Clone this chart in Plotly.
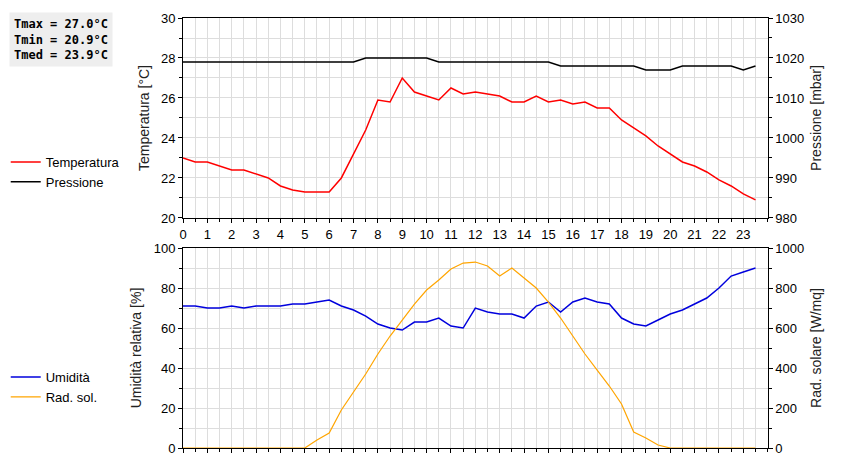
import plotly.graph_objects as go
from plotly.subplots import make_subplots

ore = [i * 0.5 for i in range(48)]

temperatura = [23.0, 22.8, 22.8, 22.6, 22.4, 22.4, 22.2, 22.0, 21.6, 21.4, 21.3, 21.3,
               21.3, 22.0, 23.2, 24.4, 25.9, 25.8, 27.0, 26.3, 26.1, 25.9, 26.5, 26.2,
               26.3, 26.2, 26.1, 25.8, 25.8, 26.1, 25.8, 25.9, 25.7, 25.8, 25.5, 25.5,
               24.9, 24.5, 24.1, 23.6, 23.2, 22.8, 22.6, 22.3, 21.9, 21.6, 21.2, 20.9]
pressione = [1019] * 15 + [1020] * 6 + [1019] * 10 + [1018] * 7 + [1017] * 3 + [1018] * 5 + [1017, 1018]
umidita = [71, 71, 70, 70, 71, 70, 71, 71, 71, 72, 72, 73, 74, 71, 69, 66, 62, 60, 59, 63,
           63, 65, 61, 60, 70, 68, 67, 67, 65, 71, 73, 68, 73, 75, 73, 72, 65, 62, 61, 64,
           67, 69, 72, 75, 80, 86, 88, 90]
radiazione = [0] * 11 + [40, 75, 190, 280, 370, 470, 560, 640, 720, 790, 840, 895, 925,
              930, 910, 860, 900, 850, 800, 730, 650, 560, 470, 390, 310, 220, 80, 50, 15] + [0] * 8

statistiche = ["Tmax = 27.0°C", "Tmin = 20.9°C", "Tmed = 23.9°C"]

fig = make_subplots(rows=2, cols=1, vertical_spacing=0.07,
                    specs=[[{"secondary_y": True}], [{"secondary_y": True}]])

fig.add_trace(go.Scatter(x=ore, y=temperatura, name="Temperatura", mode="lines",
                         line=dict(color="#ff0000", width=1.5), legend="legend"),
              row=1, col=1, secondary_y=False)
fig.add_trace(go.Scatter(x=ore, y=pressione, name="Pressione", mode="lines",
                         line=dict(color="#000000", width=1.5), legend="legend"),
              row=1, col=1, secondary_y=True)
fig.add_trace(go.Scatter(x=ore, y=umidita, name="Umidità", mode="lines",
                         line=dict(color="#0000dd", width=1.5), legend="legend2"),
              row=2, col=1, secondary_y=False)
fig.add_trace(go.Scatter(x=ore, y=radiazione, name="Rad. sol.", mode="lines",
                         line=dict(color="#ffa500", width=1.2), legend="legend2"),
              row=2, col=1, secondary_y=True)

fnt = dict(family="Liberation Sans, Arial", size=13, color="black")
tfont = dict(family="Liberation Sans, Arial", size=14, color="#222")
axis_style = dict(showline=True, linecolor="black", linewidth=1, ticks="outside",
                  ticklen=4, tickcolor="black", tickfont=fnt, zeroline=False, automargin=False)

fig.update_xaxes(range=[0, 24], showgrid=True, gridcolor="#dddddd",
                 minor=dict(dtick=0.5, showgrid=True, gridcolor="#dddddd", ticks="outside",
                            ticklen=3, tickcolor="black"),
                 mirror=True, tickvals=list(range(24)), **axis_style)

fig.update_yaxes(range=[20, 30], dtick=2, showgrid=True, gridcolor="#dddddd",
                 minor=dict(dtick=1, showgrid=True, gridcolor="#dddddd", ticks="outside", ticklen=3),
                 title_text="Temperatura [°C]", title_font=tfont, title_standoff=8,
                 row=1, col=1, secondary_y=False, **axis_style)
fig.update_yaxes(range=[980, 1030], dtick=10, showgrid=False,
                 minor=dict(dtick=5, ticks="outside", ticklen=3),
                 title_text="Pressione [mbar]", title_font=tfont, title_standoff=8,
                 row=1, col=1, secondary_y=True, **axis_style)
fig.update_yaxes(range=[0, 100], dtick=20, showgrid=True, gridcolor="#dddddd",
                 minor=dict(dtick=10, showgrid=True, gridcolor="#dddddd", ticks="outside", ticklen=3),
                 title_text="Umidità relativa [%]", title_font=tfont, title_standoff=8,
                 row=2, col=1, secondary_y=False, **axis_style)
fig.update_yaxes(range=[0, 1000], dtick=200, showgrid=False,
                 minor=dict(dtick=100, ticks="outside", ticklen=3),
                 title_text="Rad. solare [W/mq]", title_font=tfont, title_standoff=8,
                 row=2, col=1, secondary_y=True, **axis_style)

leg = dict(font=dict(family="Liberation Sans, Arial", size=13, color="black"),
           bgcolor="rgba(0,0,0,0)", xanchor="left", yanchor="top", tracegroupgap=0,
           itemwidth=30)
fig.update_layout(
    width=860, height=460, plot_bgcolor="white", paper_bgcolor="white",
    margin=dict(l=175, r=63, t=10, b=20, autoexpand=False),
    legend=dict(x=-0.285, y=0.7, **leg),
    legend2=dict(x=-0.285, y=0.2, **leg),
)

fig.add_annotation(xref="paper", yref="paper", x=-0.28, y=1.015, xanchor="left", yanchor="top",
                   text="<b>" + "<br>".join(statistiche) + "</b>", showarrow=False, align="left",
                   font=dict(family="DejaVu Sans Mono", size=12, color="black"),
                   bgcolor="#eeeeee", borderpad=4)

fig.write_html("out.html")
